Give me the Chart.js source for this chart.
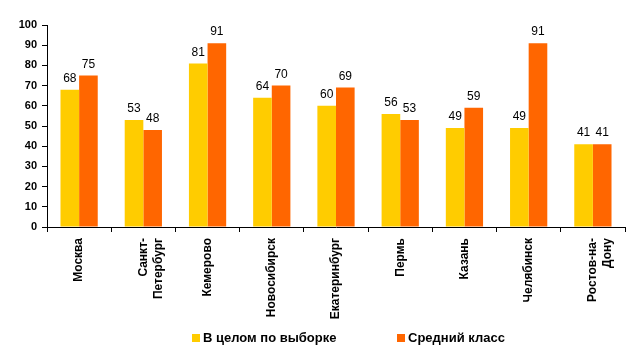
<!DOCTYPE html>
<html>
<head>
<meta charset="utf-8">
<script src="https://cdn.jsdelivr.net/npm/chart.js@4"></script>
<style>
html,body{margin:0;padding:0;background:#fff;}
#wrap{width:640px;height:357px;position:relative;}
</style>
</head>
<body>
<div id="wrap"><canvas id="c" width="640" height="357"></canvas></div>
<script>
const categories = [
  "Москва",
  ["Санкт-", "Петербург"],
  "Кемерово",
  "Новосибирск",
  "Екатеринбург",
  "Пермь",
  "Казань",
  "Челябинск",
  ["Ростов-на-", "Дону"]
];
const seriesNames = ["В целом по выборке", "Средний класс"];
const overallValues = [68, 53, 81, 64, 60, 56, 49, 49, 41];
const middleClassValues = [75, 48, 91, 70, 69, 53, 59, 91, 41];
const yTicks = [0, 10, 20, 30, 40, 50, 60, 70, 80, 90, 100];
const colors = ["#FFCC00", "#FF6600"];

const FONT = "Arial, 'Liberation Sans', sans-serif";

const valueLabels = {
  id: "valueLabels",
  afterDatasetsDraw(chart) {
    const ctx = chart.ctx;
    ctx.save();
    ctx.font = "12px " + FONT;
    ctx.fillStyle = "#000";
    ctx.textAlign = "center";
    ctx.textBaseline = "bottom";
    chart.data.datasets.forEach((ds, i) => {
      const meta = chart.getDatasetMeta(i);
      meta.data.forEach((bar, j) => {
        ctx.fillText(String(ds.data[j]), bar.x, bar.y - 5);
      });
    });
    ctx.restore();
  }
};

const customLegend = {
  id: "customLegend",
  afterDraw(chart) {
    const ctx = chart.ctx;
    ctx.save();
    ctx.font = "bold 13px " + FONT;
    ctx.textBaseline = "middle";
    ctx.textAlign = "left";
    const y = 338;
    const starts = [192, 397];
    chart.data.datasets.forEach((ds, i) => {
      const x = starts[i];
      ctx.fillStyle = ds.backgroundColor;
      ctx.fillRect(x, y - 4, 8, 8);
      ctx.fillStyle = "#000";
      ctx.fillText(ds.label, x + 11, y);
    });
    ctx.restore();
  }
};

new Chart(document.getElementById("c"), {
  type: "bar",
  data: {
    labels: categories,
    datasets: [
      { label: seriesNames[0], data: overallValues, backgroundColor: colors[0] },
      { label: seriesNames[1], data: middleClassValues, backgroundColor: colors[1] }
    ]
  },
  options: {
    responsive: false,
    animation: false,
    events: [],
    layout: { padding: { left: 0, right: 15, top: 25, bottom: 35 } },
    datasets: { bar: { categoryPercentage: 0.58, barPercentage: 1.0, borderWidth: 0 } },
    plugins: { legend: { display: false }, tooltip: { enabled: false } },
    scales: {
      x: {
        offset: true,
        grid: { display: true, offset: true, drawOnChartArea: false, drawTicks: true, tickLength: 5, color: "#000", lineWidth: 1 },
        border: { display: true, color: "#000", width: 1 },
        ticks: {
          minRotation: 90, maxRotation: 90, autoSkip: false,
          font: { family: FONT, size: 12, weight: "bold", lineHeight: 1.25 }, color: "#000", padding: 6
        },
        afterFit(scale) { scale.height = 95; }
      },
      y: {
        min: 0, max: 100,
        afterBuildTicks(scale) { scale.ticks = yTicks.map(v => ({ value: v })); },
        grid: { display: true, drawOnChartArea: false, drawTicks: true, tickLength: 5, color: "#000", lineWidth: 1 },
        border: { display: true, color: "#000", width: 1 },
        ticks: { font: { family: FONT, size: 11, weight: "bold" }, color: "#000", padding: 5 },
        afterFit(scale) { scale.width = 47; }
      }
    }
  },
  plugins: [valueLabels, customLegend]
});
</script>
</body>
</html>
